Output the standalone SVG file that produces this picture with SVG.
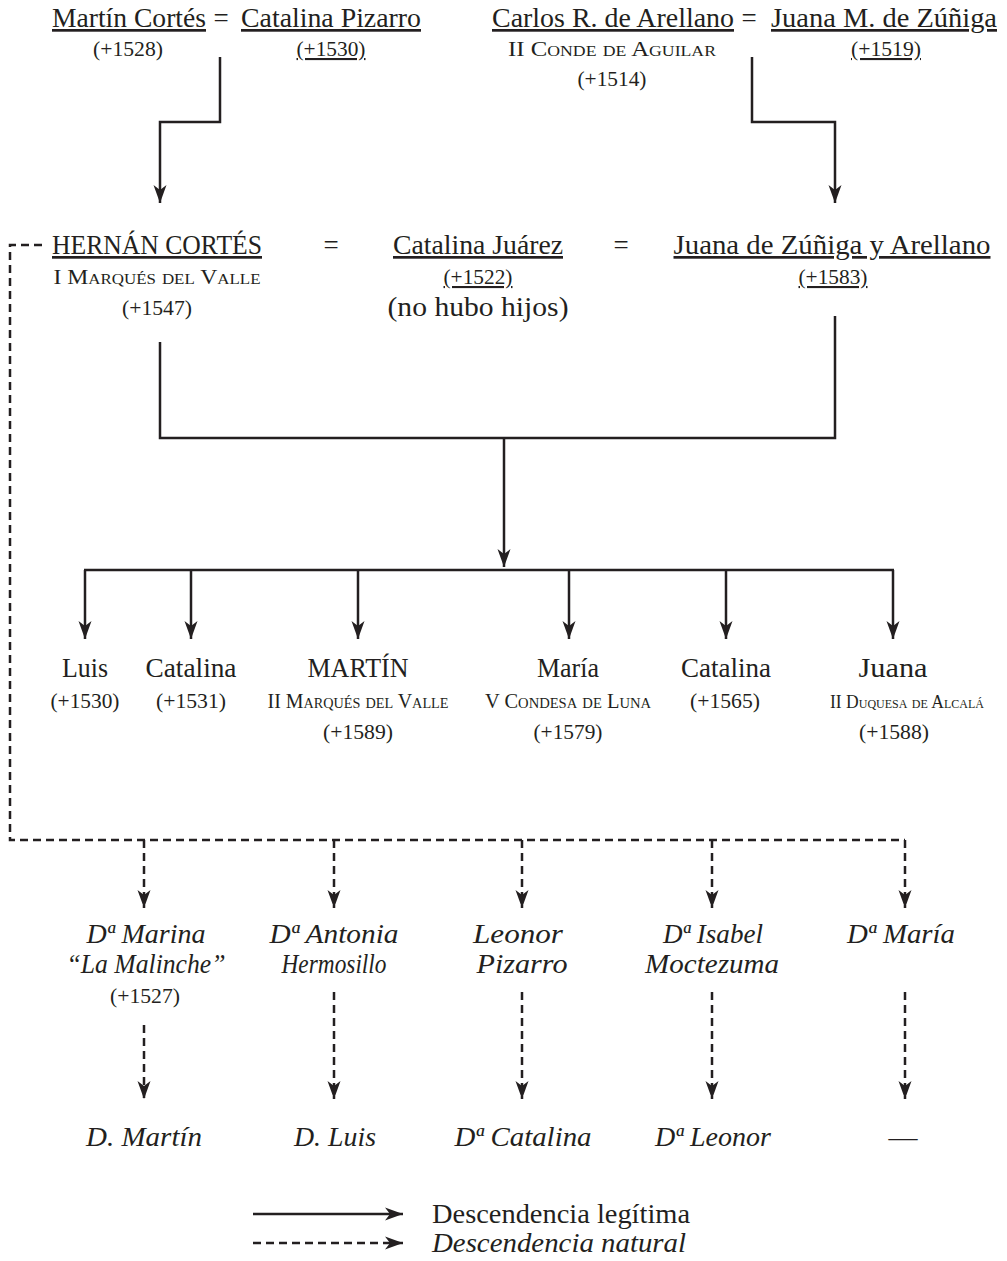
<svg xmlns="http://www.w3.org/2000/svg" width="1007" height="1261" viewBox="0 0 1007 1261">
<style>
text{font-family:"Liberation Serif","Times New Roman",serif;fill:#231f20;text-anchor:middle}
.n{font-size:27px}
.d{font-size:21px}
.sc{font-size:21px;font-variant:small-caps}
.u{text-decoration:underline}
.i{font-style:italic}
.s{stroke:#231f20;stroke-width:2.5;fill:none}
.ds{stroke:#231f20;stroke-width:2.5;fill:none;stroke-dasharray:8 5}
</style>
<defs>
<marker id="ah" viewBox="-18 -7 19 14" refX="0" refY="0" markerWidth="19" markerHeight="14" markerUnits="userSpaceOnUse" orient="auto">
<path d="M0,0 L-18,-6.5 L-13,0 L-18,6.5 Z" fill="#231f20"/>
</marker>
</defs>

<g id="connectors">
<polyline class="s" points="220,57 220,122 160,122 160,203" marker-end="url(#ah)"/>
<polyline class="s" points="752,57 752,122 835,122 835,203" marker-end="url(#ah)"/>
<polyline class="s" points="160,342 160,438 835,438 835,316"/>
<line class="s" x1="504" y1="438" x2="504" y2="567" marker-end="url(#ah)"/>
<line class="s" x1="84" y1="570" x2="894" y2="570"/>
<line class="s" x1="85" y1="570" x2="85" y2="639" marker-end="url(#ah)"/>
<line class="s" x1="191" y1="570" x2="191" y2="639" marker-end="url(#ah)"/>
<line class="s" x1="358" y1="570" x2="358" y2="639" marker-end="url(#ah)"/>
<line class="s" x1="569" y1="570" x2="569" y2="639" marker-end="url(#ah)"/>
<line class="s" x1="726" y1="570" x2="726" y2="639" marker-end="url(#ah)"/>
<line class="s" x1="893" y1="570" x2="893" y2="639" marker-end="url(#ah)"/>
<polyline class="ds" points="42,245 10,245 10,840 905,840"/>
<line class="ds" x1="144" y1="840" x2="144" y2="908" marker-end="url(#ah)"/>
<line class="ds" x1="334" y1="840" x2="334" y2="908" marker-end="url(#ah)"/>
<line class="ds" x1="522" y1="840" x2="522" y2="908" marker-end="url(#ah)"/>
<line class="ds" x1="712" y1="840" x2="712" y2="908" marker-end="url(#ah)"/>
<line class="ds" x1="905" y1="840" x2="905" y2="908" marker-end="url(#ah)"/>
<line class="ds" x1="144" y1="1025" x2="144" y2="1099" marker-end="url(#ah)"/>
<line class="ds" x1="334" y1="992" x2="334" y2="1099" marker-end="url(#ah)"/>
<line class="ds" x1="522" y1="992" x2="522" y2="1099" marker-end="url(#ah)"/>
<line class="ds" x1="712" y1="992" x2="712" y2="1099" marker-end="url(#ah)"/>
<line class="ds" x1="905" y1="992" x2="905" y2="1099" marker-end="url(#ah)"/>
</g>

<g id="martin-cortes">
<text class="n u" x="129" y="27" textLength="154" lengthAdjust="spacingAndGlyphs">Martín Cortés</text>
<text class="d" x="128" y="56" textLength="70" lengthAdjust="spacingAndGlyphs">(+1528)</text>
</g>
<text class="n" x="221" y="27">=</text>
<g id="catalina-pizarro">
<text class="n u" x="331" y="27" textLength="180" lengthAdjust="spacingAndGlyphs">Catalina Pizarro</text>
<text class="d u" x="331" y="56" textLength="69" lengthAdjust="spacingAndGlyphs">(+1530)</text>
</g>
<g id="carlos-arellano">
<text class="n u" x="613" y="27" textLength="242" lengthAdjust="spacingAndGlyphs">Carlos R. de Arellano</text>
<text class="sc" x="612" y="56" textLength="208" lengthAdjust="spacingAndGlyphs">II Conde de Aguilar</text>
<text class="d" x="612" y="86" textLength="69" lengthAdjust="spacingAndGlyphs">(+1514)</text>
</g>
<text class="n" x="749" y="27">=</text>
<g id="juana-m-zuniga">
<text class="n u" x="884" y="27" textLength="226" lengthAdjust="spacingAndGlyphs">Juana M. de Zúñiga</text>
<text class="d u" x="886" y="56" textLength="70" lengthAdjust="spacingAndGlyphs">(+1519)</text>
</g>

<g id="hernan-cortes">
<text class="n u" x="157" y="254" textLength="210" lengthAdjust="spacingAndGlyphs">HERNÁN CORTÉS</text>
<text class="sc" x="157" y="284" textLength="207" lengthAdjust="spacingAndGlyphs">I Marqués del Valle</text>
<text class="d" x="157" y="315" textLength="70" lengthAdjust="spacingAndGlyphs">(+1547)</text>
</g>
<text class="n" x="331" y="254">=</text>
<g id="catalina-juarez">
<text class="n u" x="478" y="254" textLength="170" lengthAdjust="spacingAndGlyphs">Catalina Juárez</text>
<text class="d u" x="478" y="284" textLength="69" lengthAdjust="spacingAndGlyphs">(+1522)</text>
<text class="n" x="478" y="316" textLength="181" lengthAdjust="spacingAndGlyphs">(no hubo hijos)</text>
</g>
<text class="n" x="621" y="254">=</text>
<g id="juana-zuniga-arellano">
<text class="n u" x="832" y="254" textLength="317" lengthAdjust="spacingAndGlyphs">Juana de Zúñiga y Arellano</text>
<text class="d u" x="833" y="284" textLength="69" lengthAdjust="spacingAndGlyphs">(+1583)</text>
</g>

<g id="luis">
<text class="n" x="85" y="677" textLength="46" lengthAdjust="spacingAndGlyphs">Luis</text>
<text class="d" x="85" y="708" textLength="69" lengthAdjust="spacingAndGlyphs">(+1530)</text>
</g>
<g id="catalina-1531">
<text class="n" x="191" y="677" textLength="91" lengthAdjust="spacingAndGlyphs">Catalina</text>
<text class="d" x="191" y="708" textLength="70" lengthAdjust="spacingAndGlyphs">(+1531)</text>
</g>
<g id="martin-ii">
<text class="n" x="358" y="677" textLength="101" lengthAdjust="spacingAndGlyphs">MARTÍN</text>
<text class="sc" x="358" y="708" textLength="181" lengthAdjust="spacingAndGlyphs">II Marqués del Valle</text>
<text class="d" x="358" y="739" textLength="70" lengthAdjust="spacingAndGlyphs">(+1589)</text>
</g>
<g id="maria">
<text class="n" x="568" y="677" textLength="62" lengthAdjust="spacingAndGlyphs">María</text>
<text class="sc" x="568" y="708" textLength="166" lengthAdjust="spacingAndGlyphs">V Condesa de Luna</text>
<text class="d" x="568" y="739" textLength="69" lengthAdjust="spacingAndGlyphs">(+1579)</text>
</g>
<g id="catalina-1565">
<text class="n" x="726" y="677" textLength="90" lengthAdjust="spacingAndGlyphs">Catalina</text>
<text class="d" x="725" y="708" textLength="70" lengthAdjust="spacingAndGlyphs">(+1565)</text>
</g>
<g id="juana-alcala">
<text class="n" x="893" y="677" textLength="69" lengthAdjust="spacingAndGlyphs">Juana</text>
<text class="sc" x="907" y="708" style="font-size:19px" textLength="154" lengthAdjust="spacingAndGlyphs">II Duquesa de Alcalá</text>
<text class="d" x="894" y="739" textLength="70" lengthAdjust="spacingAndGlyphs">(+1588)</text>
</g>

<g id="marina">
<text class="n i" x="146" y="943" textLength="119" lengthAdjust="spacingAndGlyphs">Dª Marina</text>
<text class="n i" x="146" y="973" textLength="159" lengthAdjust="spacingAndGlyphs">“La Malinche”</text>
<text class="d" x="145" y="1003" textLength="70" lengthAdjust="spacingAndGlyphs">(+1527)</text>
</g>
<g id="antonia">
<text class="n i" x="334" y="943" textLength="129" lengthAdjust="spacingAndGlyphs">Dª Antonia</text>
<text class="n i" x="334" y="973" textLength="105" lengthAdjust="spacingAndGlyphs">Hermosillo</text>
</g>
<g id="leonor-pizarro">
<text class="n i" x="518" y="943" textLength="90" lengthAdjust="spacingAndGlyphs">Leonor</text>
<text class="n i" x="522" y="973" textLength="91" lengthAdjust="spacingAndGlyphs">Pizarro</text>
</g>
<g id="isabel">
<text class="n i" x="713" y="943" textLength="100" lengthAdjust="spacingAndGlyphs">Dª Isabel</text>
<text class="n i" x="712" y="973" textLength="134" lengthAdjust="spacingAndGlyphs">Moctezuma</text>
</g>
<g id="d-maria">
<text class="n i" x="901" y="943" textLength="108" lengthAdjust="spacingAndGlyphs">Dª María</text>
</g>

<g id="d-martin"><text class="n i" x="144" y="1146" textLength="116" lengthAdjust="spacingAndGlyphs">D. Martín</text></g>
<g id="d-luis"><text class="n i" x="335" y="1146" textLength="82" lengthAdjust="spacingAndGlyphs">D. Luis</text></g>
<g id="d-catalina"><text class="n i" x="523" y="1146" textLength="137" lengthAdjust="spacingAndGlyphs">Dª Catalina</text></g>
<g id="d-leonor"><text class="n i" x="713" y="1146" textLength="116" lengthAdjust="spacingAndGlyphs">Dª Leonor</text></g>
<g id="none"><text class="n" x="903" y="1146" textLength="29" lengthAdjust="spacingAndGlyphs">—</text></g>

<g id="legend">
<line class="s" x1="253" y1="1214" x2="403" y2="1214" marker-end="url(#ah)"/>
<text class="n" x="561" y="1223" textLength="258" lengthAdjust="spacingAndGlyphs">Descendencia legítima</text>
<line class="ds" x1="253" y1="1243" x2="403" y2="1243" marker-end="url(#ah)"/>
<text class="n i" x="559" y="1252" textLength="254" lengthAdjust="spacingAndGlyphs">Descendencia natural</text>
</g>
</svg>
